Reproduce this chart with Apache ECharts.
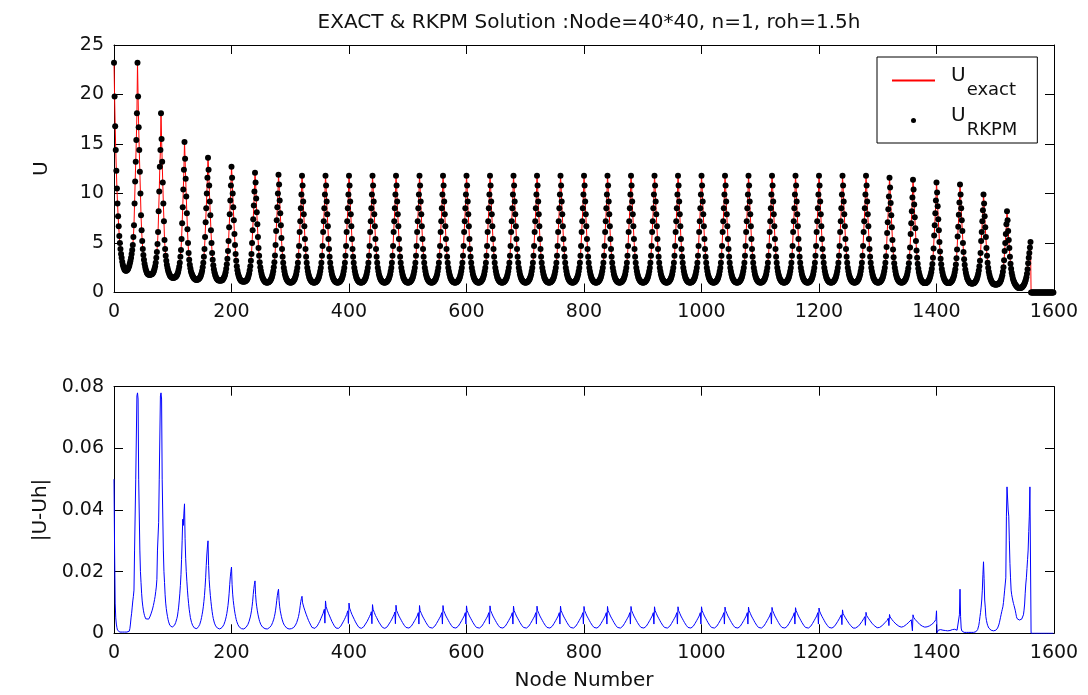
<!DOCTYPE html>
<html>
<head>
<meta charset="utf-8">
<script src="https://cdn.jsdelivr.net/npm/echarts@6/dist/echarts.min.js"></script>
<style>
html,body{margin:0;padding:0;background:#fff;}
#chart{width:1088px;height:695px;}
</style>
</head>
<body>
<div id="chart"></div>
<script>
// ---- chart text ----
const titleText = 'EXACT & RKPM Solution :Node=40*40, n=1, roh=1.5h';
const xTickValues = [0, 200, 400, 600, 800, 1000, 1200, 1400, 1600];
const uTickValues = [0, 5, 10, 15, 20, 25];
const errTickValues = [0, 0.02, 0.04, 0.06, 0.08];

// ---- U (exact) per grid column: 40 columns x 40 nodes, node = 40*col + row ----
const uExact = [
[23.2,19.8,16.8,14.4,12.3,10.5,9.0,7.7,6.7,5.7,5.0,4.4,3.9,3.5,3.1,2.8,2.6,2.45,2.3,2.25,2.2,2.2,2.25,2.3,2.4,2.55,2.7,2.95,3.2,3.5,3.9,4.3,4.8,5.6,6.8,9.0,11.2,13.2,15.4,18.1],
[23.2,19.8,16.7,14.4,12.2,10.0,7.8,6.3,5.2,4.4,3.8,3.3,2.9,2.6,2.35,2.15,2.0,1.9,1.85,1.8,1.8,1.8,1.8,1.82,1.84,1.88,1.95,2.05,2.2,2.4,2.65,3.0,3.5,4.1,4.9,6.1,8.2,10.2,12.7,14.4],
[18.1,15.5,13.2,11.1,9.0,7.2,5.3,4.4,3.7,3.2,2.8,2.5,2.25,2.05,1.9,1.75,1.65,1.58,1.53,1.5,1.5,1.5,1.5,1.52,1.54,1.58,1.65,1.75,1.88,2.05,2.3,2.6,3.0,3.6,4.3,5.4,7.0,8.6,10.4,12.4],
[15.2,13.5,11.5,9.7,8.0,6.4,5.0,4.0,3.3,2.8,2.45,2.15,1.95,1.8,1.65,1.55,1.45,1.38,1.33,1.3,1.3,1.3,1.3,1.32,1.36,1.42,1.5,1.6,1.75,1.95,2.2,2.55,3.0,3.6,4.4,5.6,7.1,8.5,10.0,11.6],
[13.6,12.4,10.8,9.2,7.8,6.3,5.0,4.0,3.3,2.75,2.35,2.05,1.82,1.65,1.5,1.4,1.32,1.26,1.22,1.2,1.2,1.2,1.2,1.22,1.25,1.3,1.38,1.48,1.62,1.8,2.05,2.4,2.85,3.4,4.2,5.2,6.6,7.9,9.3,10.8],
[12.7,11.6,10.0,8.6,7.3,5.9,4.8,3.9,3.2,2.65,2.25,1.95,1.72,1.55,1.4,1.3,1.22,1.16,1.12,1.1,1.1,1.1,1.1,1.12,1.15,1.2,1.27,1.37,1.5,1.68,1.92,2.25,2.65,3.2,3.9,5.0,6.3,7.4,8.8,10.2],
[12.1,11.1,9.5,8.1,6.9,5.6,4.5,3.7,3.05,2.55,2.2,1.9,1.65,1.48,1.34,1.23,1.15,1.09,1.04,1.01,1.0,1.0,1.01,1.04,1.08,1.14,1.22,1.32,1.45,1.62,1.85,2.15,2.55,3.05,3.75,4.8,6.2,7.3,8.6,10.0],
[11.9,10.9,9.3,8.0,6.8,5.5,4.4,3.6,3.0,2.5,2.15,1.85,1.62,1.45,1.32,1.22,1.14,1.08,1.04,1.01,1.0,1.0,1.01,1.04,1.08,1.14,1.22,1.32,1.45,1.62,1.85,2.15,2.5,3.0,3.7,4.7,6.1,7.2,8.5,9.9],
[11.8,10.8,9.2,7.9,6.7,5.4,4.4,3.6,3.0,2.5,2.15,1.85,1.62,1.45,1.32,1.22,1.14,1.08,1.04,1.01,1.0,1.0,1.01,1.04,1.08,1.14,1.22,1.32,1.45,1.62,1.85,2.15,2.5,3.0,3.7,4.7,6.1,7.2,8.5,9.9],
[11.8,10.8,9.2,7.9,6.7,5.4,4.4,3.6,3.0,2.5,2.15,1.85,1.62,1.45,1.32,1.22,1.14,1.08,1.04,1.01,1.0,1.0,1.01,1.04,1.08,1.14,1.22,1.32,1.45,1.62,1.85,2.15,2.5,3.0,3.7,4.7,6.1,7.2,8.5,9.9],
[11.8,10.8,9.2,7.9,6.7,5.4,4.4,3.6,3.0,2.5,2.15,1.85,1.62,1.45,1.32,1.22,1.14,1.08,1.04,1.01,1.0,1.0,1.01,1.04,1.08,1.14,1.22,1.32,1.45,1.62,1.85,2.15,2.5,3.0,3.7,4.7,6.1,7.2,8.5,9.9],
[11.8,10.8,9.2,7.9,6.7,5.4,4.4,3.6,3.0,2.5,2.15,1.85,1.62,1.45,1.32,1.22,1.14,1.08,1.04,1.01,1.0,1.0,1.01,1.04,1.08,1.14,1.22,1.32,1.45,1.62,1.85,2.15,2.5,3.0,3.7,4.7,6.1,7.2,8.5,9.9],
[11.8,10.8,9.2,7.9,6.7,5.4,4.4,3.6,3.0,2.5,2.15,1.85,1.62,1.45,1.32,1.22,1.14,1.08,1.04,1.01,1.0,1.0,1.01,1.04,1.08,1.14,1.22,1.32,1.45,1.62,1.85,2.15,2.5,3.0,3.7,4.7,6.1,7.2,8.5,9.9],
[11.8,10.8,9.2,7.9,6.7,5.4,4.4,3.6,3.0,2.5,2.15,1.85,1.62,1.45,1.32,1.22,1.14,1.08,1.04,1.01,1.0,1.0,1.01,1.04,1.08,1.14,1.22,1.32,1.45,1.62,1.85,2.15,2.5,3.0,3.7,4.7,6.1,7.2,8.5,9.9],
[11.8,10.8,9.2,7.9,6.7,5.4,4.4,3.6,3.0,2.5,2.15,1.85,1.62,1.45,1.32,1.22,1.14,1.08,1.04,1.01,1.0,1.0,1.01,1.04,1.08,1.14,1.22,1.32,1.45,1.62,1.85,2.15,2.5,3.0,3.7,4.7,6.1,7.2,8.5,9.9],
[11.8,10.8,9.2,7.9,6.7,5.4,4.4,3.6,3.0,2.5,2.15,1.85,1.62,1.45,1.32,1.22,1.14,1.08,1.04,1.01,1.0,1.0,1.01,1.04,1.08,1.14,1.22,1.32,1.45,1.62,1.85,2.15,2.5,3.0,3.7,4.7,6.1,7.2,8.5,9.9],
[11.8,10.8,9.2,7.9,6.7,5.4,4.4,3.6,3.0,2.5,2.15,1.85,1.62,1.45,1.32,1.22,1.14,1.08,1.04,1.01,1.0,1.0,1.01,1.04,1.08,1.14,1.22,1.32,1.45,1.62,1.85,2.15,2.5,3.0,3.7,4.7,6.1,7.2,8.5,9.9],
[11.8,10.8,9.2,7.9,6.7,5.4,4.4,3.6,3.0,2.5,2.15,1.85,1.62,1.45,1.32,1.22,1.14,1.08,1.04,1.01,1.0,1.0,1.01,1.04,1.08,1.14,1.22,1.32,1.45,1.62,1.85,2.15,2.5,3.0,3.7,4.7,6.1,7.2,8.5,9.9],
[11.8,10.8,9.2,7.9,6.7,5.4,4.4,3.6,3.0,2.5,2.15,1.85,1.62,1.45,1.32,1.22,1.14,1.08,1.04,1.01,1.0,1.0,1.01,1.04,1.08,1.14,1.22,1.32,1.45,1.62,1.85,2.15,2.5,3.0,3.7,4.7,6.1,7.2,8.5,9.9],
[11.8,10.8,9.2,7.9,6.7,5.4,4.4,3.6,3.0,2.5,2.15,1.85,1.62,1.45,1.32,1.22,1.14,1.08,1.04,1.01,1.0,1.0,1.01,1.04,1.08,1.14,1.22,1.32,1.45,1.62,1.85,2.15,2.5,3.0,3.7,4.7,6.1,7.2,8.5,9.9],
[11.8,10.8,9.2,7.9,6.7,5.4,4.4,3.6,3.0,2.5,2.15,1.85,1.62,1.45,1.32,1.22,1.14,1.08,1.04,1.01,1.0,1.0,1.01,1.04,1.08,1.14,1.22,1.32,1.45,1.62,1.85,2.15,2.5,3.0,3.7,4.7,6.1,7.2,8.5,9.9],
[11.8,10.8,9.2,7.9,6.7,5.4,4.4,3.6,3.0,2.5,2.15,1.85,1.62,1.45,1.32,1.22,1.14,1.08,1.04,1.01,1.0,1.0,1.01,1.04,1.08,1.14,1.22,1.32,1.45,1.62,1.85,2.15,2.5,3.0,3.7,4.7,6.1,7.2,8.5,9.9],
[11.8,10.8,9.2,7.9,6.7,5.4,4.4,3.6,3.0,2.5,2.15,1.85,1.62,1.45,1.32,1.22,1.14,1.08,1.04,1.01,1.0,1.0,1.01,1.04,1.08,1.14,1.22,1.32,1.45,1.62,1.85,2.15,2.5,3.0,3.7,4.7,6.1,7.2,8.5,9.9],
[11.8,10.8,9.2,7.9,6.7,5.4,4.4,3.6,3.0,2.5,2.15,1.85,1.62,1.45,1.32,1.22,1.14,1.08,1.04,1.01,1.0,1.0,1.01,1.04,1.08,1.14,1.22,1.32,1.45,1.62,1.85,2.15,2.5,3.0,3.7,4.7,6.1,7.2,8.5,9.9],
[11.8,10.8,9.2,7.9,6.7,5.4,4.4,3.6,3.0,2.5,2.15,1.85,1.62,1.45,1.32,1.22,1.14,1.08,1.04,1.01,1.0,1.0,1.01,1.04,1.08,1.14,1.22,1.32,1.45,1.62,1.85,2.15,2.5,3.0,3.7,4.7,6.1,7.2,8.5,9.9],
[11.8,10.8,9.2,7.9,6.7,5.4,4.4,3.6,3.0,2.5,2.15,1.85,1.62,1.45,1.32,1.22,1.14,1.08,1.04,1.01,1.0,1.0,1.01,1.04,1.08,1.14,1.22,1.32,1.45,1.62,1.85,2.15,2.5,3.0,3.7,4.7,6.1,7.2,8.5,9.9],
[11.8,10.8,9.2,7.9,6.7,5.4,4.4,3.6,3.0,2.5,2.15,1.85,1.62,1.45,1.32,1.22,1.14,1.08,1.04,1.01,1.0,1.0,1.01,1.04,1.08,1.14,1.22,1.32,1.45,1.62,1.85,2.15,2.5,3.0,3.7,4.7,6.1,7.2,8.5,9.9],
[11.8,10.8,9.2,7.9,6.7,5.4,4.4,3.6,3.0,2.5,2.15,1.85,1.62,1.45,1.32,1.22,1.14,1.08,1.04,1.01,1.0,1.0,1.01,1.04,1.08,1.14,1.22,1.32,1.45,1.62,1.85,2.15,2.5,3.0,3.7,4.7,6.1,7.2,8.5,9.9],
[11.8,10.8,9.2,7.9,6.7,5.4,4.4,3.6,3.0,2.5,2.15,1.85,1.62,1.45,1.32,1.22,1.14,1.08,1.04,1.01,1.0,1.0,1.01,1.04,1.08,1.14,1.22,1.32,1.45,1.62,1.85,2.15,2.5,3.0,3.7,4.7,6.1,7.2,8.5,9.9],
[11.8,10.8,9.2,7.9,6.7,5.4,4.4,3.6,3.0,2.5,2.15,1.85,1.62,1.45,1.32,1.22,1.14,1.08,1.04,1.01,1.0,1.0,1.01,1.04,1.08,1.14,1.22,1.32,1.45,1.62,1.85,2.15,2.5,3.0,3.7,4.7,6.1,7.2,8.5,9.9],
[11.8,10.8,9.2,7.9,6.7,5.4,4.4,3.6,3.0,2.5,2.15,1.85,1.62,1.45,1.32,1.22,1.14,1.08,1.04,1.01,1.0,1.0,1.01,1.04,1.08,1.14,1.22,1.32,1.45,1.62,1.85,2.15,2.5,3.0,3.7,4.7,6.1,7.2,8.5,9.9],
[11.8,10.8,9.2,7.9,6.7,5.4,4.4,3.6,3.0,2.5,2.15,1.85,1.62,1.45,1.32,1.22,1.14,1.08,1.04,1.01,1.0,1.0,1.01,1.04,1.08,1.14,1.22,1.32,1.45,1.62,1.85,2.15,2.5,3.0,3.7,4.7,6.1,7.2,8.5,9.9],
[11.8,10.8,9.2,7.9,6.7,5.4,4.4,3.6,3.0,2.5,2.15,1.85,1.62,1.45,1.32,1.22,1.14,1.08,1.04,1.01,1.0,1.0,1.01,1.04,1.08,1.14,1.22,1.32,1.45,1.62,1.85,2.15,2.5,3.0,3.65,4.6,6.0,7.1,8.4,9.7],
[11.6,10.6,9.05,7.8,6.6,5.3,4.35,3.55,2.95,2.5,2.15,1.85,1.62,1.45,1.32,1.22,1.14,1.08,1.04,1.01,1.0,1.0,1.01,1.04,1.08,1.14,1.22,1.32,1.45,1.6,1.82,2.1,2.45,2.95,3.6,4.55,5.9,7.0,8.2,9.6],
[11.4,10.4,8.9,7.6,6.5,5.2,4.25,3.5,2.9,2.42,2.08,1.8,1.57,1.4,1.27,1.17,1.09,1.03,0.99,0.96,0.95,0.95,0.96,0.99,1.03,1.09,1.17,1.27,1.4,1.56,1.78,2.05,2.4,2.88,3.5,4.45,5.75,6.8,8.0,9.3],
[11.1,10.1,8.7,7.4,6.3,5.1,4.15,3.4,2.85,2.38,2.05,1.78,1.56,1.4,1.27,1.17,1.09,1.03,0.99,0.96,0.95,0.95,0.96,0.99,1.03,1.08,1.15,1.25,1.38,1.54,1.75,2.02,2.36,2.83,3.45,4.35,5.65,6.65,7.85,9.1],
[10.9,9.9,8.5,7.3,6.2,5.0,4.1,3.35,2.8,2.33,2.0,1.72,1.5,1.34,1.21,1.11,1.03,0.97,0.93,0.91,0.9,0.9,0.91,0.93,0.97,1.02,1.09,1.18,1.3,1.45,1.64,1.9,2.22,2.65,3.2,4.0,5.2,6.1,7.2,8.3],
[9.9,9.0,7.7,6.6,5.6,4.5,3.7,3.0,2.5,2.1,1.8,1.55,1.36,1.2,1.08,0.99,0.92,0.87,0.83,0.81,0.8,0.8,0.8,0.81,0.83,0.86,0.9,0.96,1.04,1.15,1.3,1.5,1.75,2.1,2.55,3.25,4.2,5.0,5.9,6.9],
[8.2,7.3,6.2,5.3,4.5,3.6,2.9,2.4,2.0,1.68,1.42,1.22,1.06,0.93,0.82,0.73,0.65,0.58,0.53,0.49,0.46,0.45,0.45,0.46,0.48,0.51,0.56,0.62,0.7,0.8,0.93,1.1,1.3,1.55,1.9,2.35,2.95,3.5,4.0,4.55],
[5.1,0,0,0,0,0,0,0,0,0,0,0,0,0,0,0,0,0,0,0,0,0,0,0,0,0,0,0,0,0,0,0,0,0,0,0,0,0,0,0]
];

// ---- |U - Uh| per grid column (same node layout) ----
const uError = [
[0.050,0.027,0.0098,0.005,0.003,0.0018,0.001,0.0006,0.0004,0.0004,0.0004,0.0004,0.0004,0.0004,0.0004,0.0004,0.0004,0.0004,0.0004,0.0004,0.0004,0.0004,0.0004,0.0004,0.0004,0.0005,0.0007,0.0015,0.003,0.005,0.0065,0.0085,0.0105,0.012,0.014,0.027,0.027,0.05,0.05,0.077],
[0.078,0.076,0.05,0.05,0.027,0.02,0.0165,0.013,0.0105,0.0088,0.0075,0.0065,0.0057,0.0051,0.0047,0.0044,0.0043,0.0043,0.0044,0.0046,0.0049,0.0053,0.0058,0.0063,0.0068,0.0075,0.0082,0.009,0.0099,0.0109,0.012,0.0135,0.015,0.0175,0.027,0.027,0.036,0.05,0.05,0.077],
[0.078,0.076,0.05,0.05,0.027,0.02,0.0165,0.0125,0.0098,0.008,0.0066,0.0055,0.0045,0.0037,0.0031,0.0026,0.0023,0.0021,0.002,0.002,0.002,0.0021,0.0023,0.0026,0.003,0.0035,0.0041,0.0048,0.0056,0.007,0.0085,0.0105,0.0128,0.0155,0.019,0.024,0.03,0.037,0.035,0.039],
[0.042,0.0307,0.0242,0.0201,0.0169,0.014,0.0116,0.0096,0.0078,0.0064,0.0051,0.0043,0.0035,0.003,0.0025,0.0021,0.0019,0.0017,0.0016,0.0015,0.0015,0.0015,0.0017,0.0019,0.0022,0.0025,0.0029,0.0035,0.0042,0.0051,0.0061,0.0072,0.0086,0.0103,0.0123,0.0149,0.018,0.022,0.0254,0.028],
[0.030,0.022,0.0174,0.0146,0.0123,0.0103,0.0086,0.0071,0.0058,0.0048,0.004,0.0033,0.0028,0.0024,0.0021,0.0019,0.0017,0.0016,0.0015,0.0014,0.0014,0.0014,0.0015,0.0017,0.0019,0.0021,0.0024,0.0028,0.0033,0.0039,0.0046,0.0054,0.0064,0.0076,0.009,0.0108,0.013,0.0159,0.0183,0.0201],
[0.0215,0.0159,0.0127,0.0106,0.009,0.0076,0.0064,0.0054,0.0045,0.0038,0.0032,0.0028,0.0024,0.0021,0.0019,0.0017,0.0016,0.0015,0.0015,0.0014,0.0014,0.0014,0.0015,0.0016,0.0018,0.002,0.0022,0.0025,0.0029,0.0034,0.0039,0.0045,0.0053,0.0062,0.0073,0.0087,0.0104,0.0126,0.0145,0.0159],
[0.017,0.0126,0.0101,0.0086,0.0073,0.0062,0.0053,0.0045,0.0038,0.0033,0.0028,0.0025,0.0022,0.002,0.0018,0.0016,0.0016,0.0015,0.0014,0.0014,0.0014,0.0014,0.0015,0.0016,0.0017,0.0019,0.002,0.0023,0.0026,0.003,0.0035,0.004,0.0046,0.0054,0.0063,0.0075,0.0089,0.0107,0.0122,0.0134],
[0.0143,0.0107,0.0086,0.0073,0.0063,0.0054,0.0046,0.004,0.0034,0.003,0.0026,0.0023,0.002,0.0019,0.0017,0.0016,0.0015,0.0015,0.0014,0.0014,0.0014,0.0014,0.0015,0.0015,0.0017,0.0018,0.0019,0.0021,0.0024,0.0027,0.0031,0.0035,0.004,0.0047,0.0054,0.0064,0.0075,0.009,0.0103,0.0113],
[0.012,0.0099,0.0092,0.0085,0.0079,0.0073,0.0068,0.0062,0.0057,0.0052,0.0047,0.0042,0.0038,0.0034,0.003,0.0026,0.0022,0.0019,0.0017,0.0016,0.0015,0.0015,0.0016,0.0017,0.0019,0.0021,0.0024,0.0028,0.0031,0.0035,0.0038,0.0042,0.0047,0.0051,0.0056,0.006,0.0065,0.007,0.0078,0.0033],
[0.0105,0.0087,0.0081,0.0075,0.007,0.0065,0.006,0.0056,0.0051,0.0047,0.0042,0.0038,0.0035,0.0031,0.0028,0.0024,0.0021,0.0019,0.0017,0.0016,0.0015,0.0015,0.0016,0.0017,0.0018,0.0021,0.0023,0.0027,0.003,0.0033,0.0037,0.004,0.0044,0.0048,0.0052,0.0057,0.0061,0.0066,0.0073,0.0032],
[0.0098,0.0082,0.0076,0.0071,0.0066,0.0061,0.0057,0.0053,0.0049,0.0045,0.004,0.0037,0.0034,0.0031,0.0027,0.0024,0.0022,0.0019,0.0018,0.0017,0.0016,0.0016,0.0017,0.0018,0.0019,0.0021,0.0024,0.0027,0.003,0.0033,0.0036,0.0039,0.0043,0.0047,0.0051,0.0055,0.0058,0.0063,0.007,0.0031],
[0.0093,0.0078,0.0072,0.0068,0.0063,0.0058,0.0055,0.0051,0.0047,0.0043,0.0039,0.0036,0.0033,0.003,0.0027,0.0024,0.0021,0.0019,0.0018,0.0017,0.0016,0.0016,0.0017,0.0018,0.0019,0.0021,0.0024,0.0027,0.003,0.0033,0.0036,0.0039,0.0042,0.0046,0.005,0.0054,0.0057,0.0062,0.0069,0.0031],
[0.0091,0.0074,0.0069,0.0065,0.006,0.0056,0.0053,0.0049,0.0045,0.0042,0.0038,0.0035,0.0032,0.0029,0.0026,0.0023,0.0021,0.0019,0.0017,0.0017,0.0016,0.0016,0.0017,0.0017,0.0019,0.0021,0.0023,0.0026,0.0029,0.0032,0.0035,0.0038,0.0042,0.0045,0.0049,0.0053,0.0056,0.006,0.0067,0.003],
[0.009,0.0074,0.0069,0.0065,0.006,0.0056,0.0053,0.0049,0.0045,0.0042,0.0038,0.0035,0.0032,0.0029,0.0026,0.0023,0.0021,0.0019,0.0017,0.0017,0.0016,0.0016,0.0017,0.0017,0.0019,0.0021,0.0023,0.0026,0.0029,0.0032,0.0035,0.0038,0.0042,0.0045,0.0049,0.0053,0.0056,0.006,0.0067,0.003],
[0.009,0.0074,0.0069,0.0065,0.006,0.0056,0.0053,0.0049,0.0045,0.0042,0.0038,0.0035,0.0032,0.0029,0.0026,0.0023,0.0021,0.0019,0.0017,0.0017,0.0016,0.0016,0.0017,0.0017,0.0019,0.0021,0.0023,0.0026,0.0029,0.0032,0.0035,0.0038,0.0042,0.0045,0.0049,0.0053,0.0056,0.006,0.0067,0.003],
[0.0089,0.0074,0.0069,0.0065,0.006,0.0056,0.0053,0.0049,0.0045,0.0042,0.0038,0.0035,0.0032,0.0029,0.0026,0.0023,0.0021,0.0019,0.0017,0.0017,0.0016,0.0016,0.0017,0.0017,0.0019,0.0021,0.0023,0.0026,0.0029,0.0032,0.0035,0.0038,0.0042,0.0045,0.0049,0.0053,0.0056,0.006,0.0067,0.003],
[0.0089,0.0074,0.0069,0.0065,0.006,0.0056,0.0053,0.0049,0.0045,0.0042,0.0038,0.0035,0.0032,0.0029,0.0026,0.0023,0.0021,0.0019,0.0017,0.0017,0.0016,0.0016,0.0017,0.0017,0.0019,0.0021,0.0023,0.0026,0.0029,0.0032,0.0035,0.0038,0.0042,0.0045,0.0049,0.0053,0.0056,0.006,0.0067,0.003],
[0.0088,0.0074,0.0069,0.0065,0.006,0.0056,0.0053,0.0049,0.0045,0.0042,0.0038,0.0035,0.0032,0.0029,0.0026,0.0023,0.0021,0.0019,0.0017,0.0017,0.0016,0.0016,0.0017,0.0017,0.0019,0.0021,0.0023,0.0026,0.0029,0.0032,0.0035,0.0038,0.0042,0.0045,0.0049,0.0053,0.0056,0.006,0.0067,0.003],
[0.0088,0.0074,0.0069,0.0065,0.006,0.0056,0.0053,0.0049,0.0045,0.0042,0.0038,0.0035,0.0032,0.0029,0.0026,0.0023,0.0021,0.0019,0.0017,0.0017,0.0016,0.0016,0.0017,0.0017,0.0019,0.0021,0.0023,0.0026,0.0029,0.0032,0.0035,0.0038,0.0042,0.0045,0.0049,0.0053,0.0056,0.006,0.0067,0.003],
[0.0088,0.0074,0.0069,0.0065,0.006,0.0056,0.0053,0.0049,0.0045,0.0042,0.0038,0.0035,0.0032,0.0029,0.0026,0.0023,0.0021,0.0019,0.0017,0.0017,0.0016,0.0016,0.0017,0.0017,0.0019,0.0021,0.0023,0.0026,0.0029,0.0032,0.0035,0.0038,0.0042,0.0045,0.0049,0.0053,0.0056,0.006,0.0067,0.003],
[0.0087,0.0074,0.0069,0.0065,0.006,0.0056,0.0053,0.0049,0.0045,0.0042,0.0038,0.0035,0.0032,0.0029,0.0026,0.0023,0.0021,0.0019,0.0017,0.0017,0.0016,0.0016,0.0017,0.0017,0.0019,0.0021,0.0023,0.0026,0.0029,0.0032,0.0035,0.0038,0.0042,0.0045,0.0049,0.0053,0.0056,0.006,0.0067,0.003],
[0.0087,0.0074,0.0069,0.0065,0.006,0.0056,0.0053,0.0049,0.0045,0.0042,0.0038,0.0035,0.0032,0.0029,0.0026,0.0023,0.0021,0.0019,0.0017,0.0017,0.0016,0.0016,0.0017,0.0017,0.0019,0.0021,0.0023,0.0026,0.0029,0.0032,0.0035,0.0038,0.0042,0.0045,0.0049,0.0053,0.0056,0.006,0.0067,0.003],
[0.0087,0.0074,0.0069,0.0065,0.006,0.0056,0.0053,0.0049,0.0045,0.0042,0.0038,0.0035,0.0032,0.0029,0.0026,0.0023,0.0021,0.0019,0.0017,0.0017,0.0016,0.0016,0.0017,0.0017,0.0019,0.0021,0.0023,0.0026,0.0029,0.0032,0.0035,0.0038,0.0042,0.0045,0.0049,0.0053,0.0056,0.006,0.0067,0.003],
[0.0086,0.0074,0.0069,0.0065,0.006,0.0056,0.0053,0.0049,0.0045,0.0042,0.0038,0.0035,0.0032,0.0029,0.0026,0.0023,0.0021,0.0019,0.0017,0.0017,0.0016,0.0016,0.0017,0.0017,0.0019,0.0021,0.0023,0.0026,0.0029,0.0032,0.0035,0.0038,0.0042,0.0045,0.0049,0.0053,0.0056,0.006,0.0067,0.003],
[0.0086,0.0074,0.0069,0.0065,0.006,0.0056,0.0053,0.0049,0.0045,0.0042,0.0038,0.0035,0.0032,0.0029,0.0026,0.0023,0.0021,0.0019,0.0017,0.0017,0.0016,0.0016,0.0017,0.0017,0.0019,0.0021,0.0023,0.0026,0.0029,0.0032,0.0035,0.0038,0.0042,0.0045,0.0049,0.0053,0.0056,0.006,0.0067,0.003],
[0.0086,0.0074,0.0069,0.0065,0.006,0.0056,0.0053,0.0049,0.0045,0.0042,0.0038,0.0035,0.0032,0.0029,0.0026,0.0023,0.0021,0.0019,0.0017,0.0017,0.0016,0.0016,0.0017,0.0017,0.0019,0.0021,0.0023,0.0026,0.0029,0.0032,0.0035,0.0038,0.0042,0.0045,0.0049,0.0053,0.0056,0.006,0.0067,0.003],
[0.0085,0.0074,0.0069,0.0065,0.006,0.0056,0.0053,0.0049,0.0045,0.0042,0.0038,0.0035,0.0032,0.0029,0.0026,0.0023,0.0021,0.0019,0.0017,0.0017,0.0016,0.0016,0.0017,0.0017,0.0019,0.0021,0.0023,0.0026,0.0029,0.0032,0.0035,0.0038,0.0042,0.0045,0.0049,0.0053,0.0056,0.006,0.0067,0.003],
[0.0085,0.0074,0.0069,0.0065,0.006,0.0056,0.0053,0.0049,0.0045,0.0042,0.0038,0.0035,0.0032,0.0029,0.0026,0.0023,0.0021,0.0019,0.0017,0.0017,0.0016,0.0016,0.0017,0.0017,0.0019,0.0021,0.0023,0.0026,0.0029,0.0032,0.0035,0.0038,0.0042,0.0045,0.0049,0.0053,0.0056,0.006,0.0067,0.003],
[0.0084,0.0074,0.0069,0.0065,0.006,0.0056,0.0053,0.0049,0.0045,0.0042,0.0038,0.0035,0.0032,0.0029,0.0026,0.0023,0.0021,0.0019,0.0017,0.0017,0.0016,0.0016,0.0017,0.0017,0.0019,0.0021,0.0023,0.0026,0.0029,0.0032,0.0035,0.0038,0.0042,0.0045,0.0049,0.0053,0.0056,0.006,0.0067,0.003],
[0.0083,0.0074,0.0069,0.0065,0.006,0.0056,0.0053,0.0049,0.0045,0.0042,0.0038,0.0035,0.0032,0.0029,0.0026,0.0023,0.0021,0.0019,0.0017,0.0017,0.0016,0.0016,0.0017,0.0017,0.0019,0.0021,0.0023,0.0026,0.0029,0.0032,0.0035,0.0038,0.0042,0.0045,0.0049,0.0053,0.0056,0.006,0.0067,0.003],
[0.0082,0.0072,0.0067,0.0063,0.0058,0.0055,0.0052,0.0048,0.0044,0.0041,0.0037,0.0034,0.0031,0.0028,0.0026,0.0023,0.0021,0.0019,0.0017,0.0017,0.0016,0.0016,0.0017,0.0017,0.0018,0.002,0.0022,0.0025,0.0027,0.003,0.0033,0.0036,0.0039,0.0042,0.0045,0.0049,0.0052,0.0055,0.006,0.0028],
[0.0076,0.0064,0.006,0.0057,0.0053,0.005,0.0047,0.0044,0.0041,0.0038,0.0035,0.0032,0.003,0.0027,0.0025,0.0022,0.0021,0.0019,0.0017,0.0017,0.0016,0.0016,0.0017,0.0017,0.0018,0.002,0.0021,0.0023,0.0025,0.0027,0.003,0.0032,0.0035,0.0038,0.0041,0.0044,0.0047,0.005,0.0054,0.0026],
[0.0068,0.0058,0.0055,0.0052,0.0049,0.0046,0.0043,0.0041,0.0038,0.0036,0.0033,0.0031,0.0029,0.0027,0.0025,0.0023,0.0022,0.002,0.0019,0.0018,0.0018,0.0018,0.0018,0.0019,0.002,0.0021,0.0022,0.0024,0.0026,0.0028,0.003,0.0031,0.0034,0.0036,0.0038,0.004,0.0042,0.0045,0.0049,0.0025],
[0.0061,0.0053,0.0051,0.0048,0.0045,0.0043,0.0041,0.0038,0.0036,0.0034,0.0032,0.003,0.0028,0.0027,0.0025,0.0024,0.0023,0.0022,0.0021,0.002,0.002,0.002,0.002,0.0021,0.0022,0.0023,0.0024,0.0026,0.0027,0.0029,0.0031,0.0032,0.0034,0.0036,0.0038,0.004,0.0042,0.0044,0.0048,0.0008],
[0.006,0.0052,0.005,0.0047,0.0044,0.0042,0.004,0.0038,0.0036,0.0034,0.0032,0.003,0.0028,0.0027,0.0025,0.0024,0.0023,0.0022,0.0021,0.002,0.002,0.002,0.002,0.002,0.0021,0.0022,0.0022,0.0023,0.0024,0.0025,0.0026,0.0027,0.0029,0.003,0.0032,0.0034,0.0036,0.0038,0.004,0.0045],
[0.0073,0.0002,0.0008,0.001,0.0011,0.0012,0.0012,0.0012,0.0012,0.0011,0.0011,0.001,0.001,0.0009,0.0009,0.0009,0.0008,0.0008,0.0008,0.0008,0.0008,0.0008,0.0008,0.0009,0.0009,0.001,0.0011,0.0012,0.0013,0.0014,0.0014,0.0013,0.0012,0.0011,0.001,0.001,0.0009,0.001,0.0015,0.006],
[0.0143,0.0054,0.0017,0.0008,0.0005,0.0003,0.0003,0.0003,0.0003,0.0003,0.0003,0.0003,0.0003,0.0003,0.0003,0.0003,0.0003,0.0003,0.0003,0.0003,0.0003,0.0003,0.0003,0.0003,0.0003,0.0003,0.0004,0.0005,0.0007,0.001,0.0012,0.0018,0.0026,0.0038,0.0054,0.0068,0.0085,0.0108,0.014,0.019],
[0.0232,0.0178,0.0108,0.0085,0.0054,0.0042,0.0033,0.0026,0.0021,0.0017,0.0014,0.0012,0.0011,0.001,0.0009,0.0008,0.0008,0.0008,0.0008,0.0008,0.0009,0.001,0.0011,0.0013,0.0017,0.0021,0.0027,0.0034,0.0043,0.0052,0.0061,0.007,0.0078,0.0086,0.01,0.012,0.014,0.016,0.018,0.038],
[0.0475,0.0475,0.04,0.038,0.03,0.0227,0.018,0.014,0.0125,0.0115,0.0105,0.0097,0.009,0.0084,0.0075,0.0065,0.0055,0.0048,0.0045,0.0043,0.0043,0.0043,0.0043,0.0044,0.0045,0.0046,0.0048,0.0052,0.006,0.0075,0.0095,0.013,0.016,0.018,0.021,0.024,0.027,0.033,0.038,0.0475],
[0.0475,0,0,0,0,0,0,0,0,0,0,0,0,0,0,0,0,0,0,0,0,0,0,0,0,0,0,0,0,0,0,0,0,0,0,0,0,0,0,0]
];

// ---- build [node, value] pairs for the library ----
function toPairs(cols) {
  const out = [];
  cols.forEach((col, c) => {
    if (col.length !== 40) console.error('column ' + c + ' has ' + col.length + ' values');
    col.forEach((v, r) => out.push([c * 40 + r, v]));
  });
  return out;
}
const uPairs = toPairs(uExact);
const errPairs = toPairs(uError);

const FONT = 'DejaVu Sans, Verdana, sans-serif';
const TXT = '#111';
const FS = 19;

function xAxisPair(grid, withName) {
  const tickMin = xTickValues[0], tickMax = xTickValues[xTickValues.length - 1];
  const step = xTickValues[1] - xTickValues[0];
  const base = {
    gridIndex: grid, type: 'value', min: tickMin, max: tickMax, interval: step,
    axisLine: { show: true, onZero: false, lineStyle: { color: '#000', width: 1 } },
    axisTick: { show: true, inside: true, length: 9, lineStyle: { color: '#000', width: 1 } },
    splitLine: { show: false }
  };
  const bottom = Object.assign({}, base, {
    position: 'bottom',
    axisLabel: { show: true, color: TXT, fontFamily: FONT, fontSize: FS, margin: 10,
                 formatter: function (v) { return String(v); } }
  });
  if (withName) {
    Object.assign(bottom, {
      name: 'Node Number', nameLocation: 'middle', nameGap: 37,
      nameTextStyle: { color: TXT, fontFamily: FONT, fontSize: 20 }
    });
  }
  const top = Object.assign({}, base, { position: 'top', axisLabel: { show: false } });
  return [bottom, top];
}

function yAxisPair(grid, ticks, name, fmt) {
  const step = ticks[1] - ticks[0];
  const base = {
    gridIndex: grid, type: 'value', min: ticks[0], max: ticks[ticks.length - 1], interval: step,
    axisLine: { show: true, onZero: false, lineStyle: { color: '#000', width: 1 } },
    axisTick: { show: true, inside: true, length: 9, lineStyle: { color: '#000', width: 1 } },
    splitLine: { show: false }
  };
  const left = Object.assign({}, base, {
    position: 'left',
    name: name, nameLocation: 'middle', nameGap: 62, nameRotate: 90,
    nameTextStyle: { color: TXT, fontFamily: FONT, fontSize: 20 },
    axisLabel: { show: true, color: TXT, fontFamily: FONT, fontSize: FS, margin: 10, formatter: fmt }
  });
  const right = Object.assign({}, base, { position: 'right', axisLabel: { show: false } });
  return [left, right];
}

const chart = echarts.init(document.getElementById('chart'), null, { renderer: 'canvas' });
const option = {
  animation: false,
  backgroundColor: '#ffffff',
  title: {
    text: titleText, left: 584, top: 8, textAlign: 'center',
    textStyle: { color: TXT, fontFamily: FONT, fontSize: 20, fontWeight: 'normal' }
  },
  legend: {
    left: 877, top: 57, orient: 'vertical',
    data: [
      { name: 'U_exact', itemStyle: { opacity: 0 } },
      { name: 'U_RKPM', icon: 'circle' }
    ],
    itemWidth: 43, itemHeight: 5, itemGap: 3,
    padding: [5, 20, 4, 14],
    borderColor: '#000', borderWidth: 1, borderRadius: 0, backgroundColor: '#fff',
    selectedMode: false,
    formatter: function (n) { return n === 'U_exact' ? '{u|U}{s|exact}' : '{u|U}{s|RKPM}'; },
    textStyle: {
      color: TXT, fontFamily: FONT,
      rich: {
        u: { fontSize: 20, lineHeight: 24, padding: [0, 0, 10, 11], color: TXT, fontFamily: FONT },
        s: { fontSize: 18, lineHeight: 15, padding: [19, 0, 0, 1], color: TXT, fontFamily: FONT }
      }
    }
  },
  grid: [
    { left: 114, top: 45, width: 940, height: 247.5, containLabel: false },
    { left: 114, top: 386.7, width: 940, height: 246.6, containLabel: false }
  ],
  xAxis: [].concat(xAxisPair(0, false), xAxisPair(1, true)),
  yAxis: [].concat(
    yAxisPair(0, uTickValues, 'U', function (v) { return String(v); }),
    yAxisPair(1, errTickValues, '|U-Uh|', function (v) { return v === 0 ? '0' : v.toFixed(2); })
  ),
  series: [
    {
      name: 'U_exact', type: 'line', xAxisIndex: 0, yAxisIndex: 0,
      data: uPairs, symbol: 'none', showSymbol: false,
      lineStyle: { color: '#ff0000', width: 1 }, itemStyle: { color: '#ff0000' },
      z: 2
    },
    {
      name: 'U_RKPM', type: 'scatter', xAxisIndex: 0, yAxisIndex: 0,
      data: uPairs, symbol: 'circle', symbolSize: 6,
      itemStyle: { color: '#000000', opacity: 1 }, clip: false, z: 3
    },
    {
      name: '|U-Uh|', type: 'line', xAxisIndex: 2, yAxisIndex: 2,
      data: errPairs, symbol: 'none', showSymbol: false,
      lineStyle: { color: '#0000ff', width: 1 }, itemStyle: { color: '#0000ff' },
      z: 2
    }
  ]
};
chart.setOption(option);
</script>
</body>
</html>
